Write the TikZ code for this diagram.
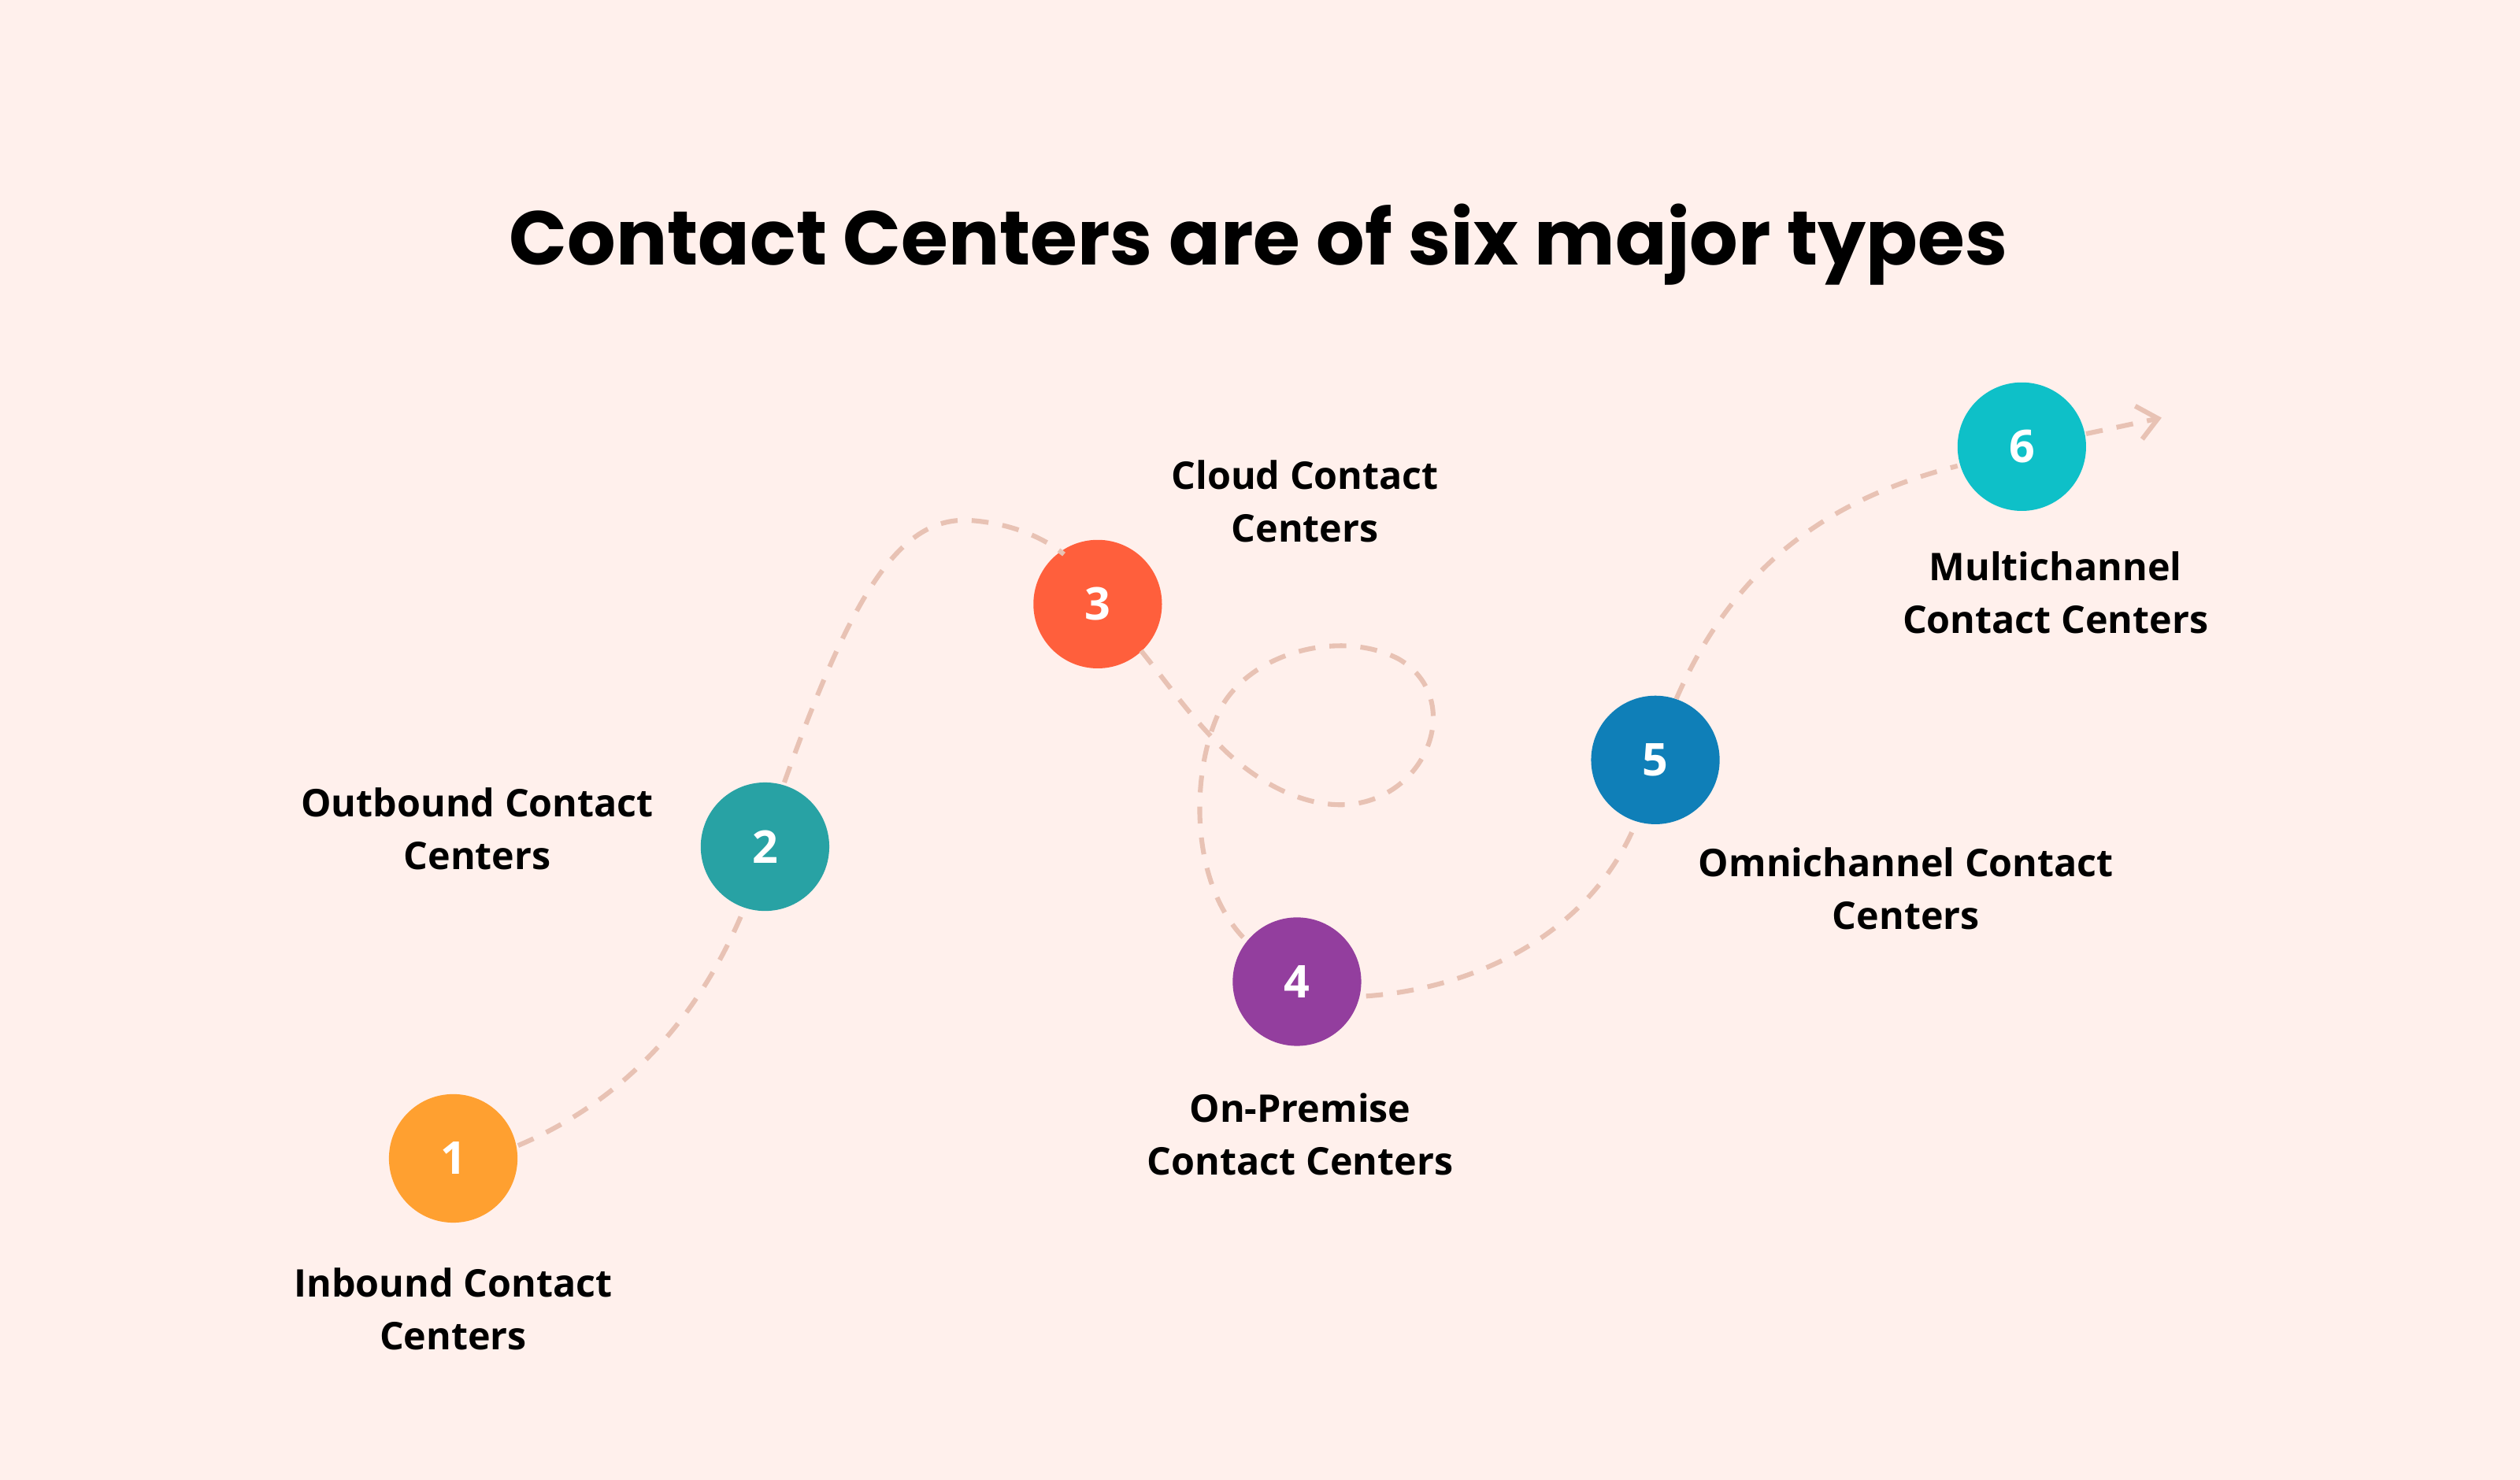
\documentclass[tikz,border=0pt]{standalone}
\usepackage{fontspec}
\setmainfont{Open Sans}
\newfontfamily\titlefont{Poppins}
\usetikzlibrary{arrows.meta}
\definecolor{bg}{HTML}{FFF0EC}
\definecolor{pathc}{HTML}{E8C2B4}
\definecolor{cA}{HTML}{FFA030}
\definecolor{cB}{HTML}{28A2A4}
\definecolor{cC}{HTML}{FF5F3C}
\definecolor{cD}{HTML}{933E9E}
\definecolor{cE}{HTML}{0F7FB8}
\definecolor{cF}{HTML}{0EC0C8}
\tikzset{
 num/.style={circle,minimum size=1.6cm,inner sep=0pt,text=white,font=\fontsize{16}{18}\selectfont\bfseries},
 lbl/.style={align=center,font=\fontsize{13.5}{18.7}\selectfont\bfseries,text=black},
 trail/.style={pathc,line width=1.7pt,dash pattern=on 6pt off 5pt}
}
\begin{document}
\begin{tikzpicture}[x=0.02cm,y=-0.02cm]
\fill[bg] (0,0) rectangle (1568,921);
\useasboundingbox (0,0) rectangle (1568,921);
\node[font=\titlefont\fontsize{27}{30}\selectfont\bfseries] (title) at (783,152) {Contact Centers are of six major types};
\node[num,fill=cA] (n1) at (282,721) {1};
\node[num,fill=cB] (n2) at (476,527) {2};
\node[num,fill=cC] (n3) at (683,376) {3};
\node[num,fill=cD] (n4) at (807,611) {4};
\node[num,fill=cE] (n5) at (1030,473) {5};
\node[num,fill=cF] (n6) at (1258,278) {6};
\coordinate (e) at (1345,260);
\draw[trail] (n1.east) ++(0,-8) .. controls (400,680) and (440,620) .. (462,568);
\draw[trail] (488,487) .. controls (530,370) and (560,320) .. (605,324) .. controls (630,326) and (650,335) .. (662,345);
\draw[trail] (710,405) .. controls (730,430) and (740,445) .. (760,465)
  .. controls (790,495) and (830,510) .. (860,495)
  .. controls (895,478) and (905,430) .. (870,410)
  .. controls (835,392) and (780,405) .. (760,440)
  .. controls (740,480) and (740,550) .. (775,585);
\draw[trail] (850,620) .. controls (920,615) and (990,580) .. (1018,512);
\draw[trail] (1043,435) .. controls (1080,350) and (1140,310) .. (1218,290);
\draw[trail,-{Straight Barb[length=7pt,width=12pt]}] (1298,270) -- (e);
\node[lbl] (l1) at (282,815) {Inbound Contact\\Centers};
\node[lbl] (l2) at (297,516) {Outbound Contact\\Centers};
\node[lbl] (l3) at (812,312) {Cloud Contact\\Centers};
\node[lbl] (l4) at (809,706) {On-Premise\\Contact Centers};
\node[lbl] (l5) at (1186,553) {Omnichannel Contact\\Centers};
\node[lbl] (l6) at (1279,369) {Multichannel\\Contact Centers};
\end{tikzpicture}
\end{document}
